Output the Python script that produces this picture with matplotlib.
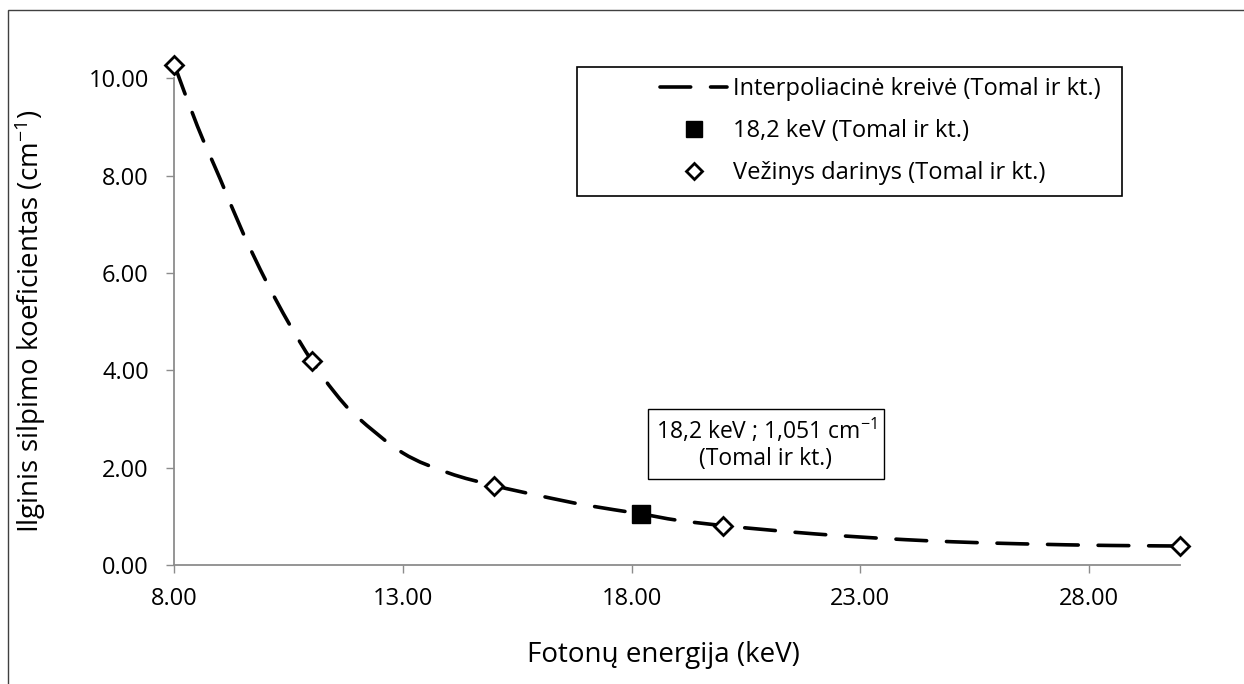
import matplotlib
matplotlib.use('Agg')
import matplotlib.pyplot as plt
from matplotlib.patches import Rectangle, PathPatch
from matplotlib.path import Path
from matplotlib.lines import Line2D

plt.rcParams['font.family'] = ['Open Sans', 'DejaVu Sans']
plt.rcParams['mathtext.fontset'] = 'custom'
plt.rcParams['mathtext.rm'] = 'Open Sans'
plt.rcParams['mathtext.default'] = 'regular'

# interpolation curve
interp_x = [8, 8.5, 9, 9.5, 10, 10.5, 11, 11.5, 12, 13, 14, 15, 16, 17, 18.2,
            19, 20, 21, 22, 23, 24, 25, 26, 27, 28, 29, 30]
interp_y = [10.27, 9.02, 7.93, 6.82, 5.84, 4.97, 4.20, 3.55, 3.04, 2.30, 1.89, 1.63,
            1.42, 1.23, 1.051, 0.92, 0.81, 0.72, 0.64, 0.575, 0.52, 0.478, 0.448,
            0.425, 0.407, 0.397, 0.39]

# measured points
meas_x = [8, 11, 15, 20, 30]
meas_y = [10.27, 4.20, 1.63, 0.81, 0.39]

# 18.2 keV point
ref_x = [18.2]
ref_y = [1.051]

x_ticks = [8, 13, 18, 23, 28]
y_ticks = [0, 2, 4, 6, 8, 10]

labels = ['Interpoliacinė kreivė (Tomal ir kt.)', '18,2 keV (Tomal ir kt.)',
          'Vežinys darinys (Tomal ir kt.)']

W, H = 1244, 684
fig = plt.figure(figsize=(W / 100, H / 100), dpi=100)
ax = fig.add_axes([174.5 / W, 1 - 565 / H, (1180 - 174.5) / W, (565 - 78.3) / H])

# smoothed line like Excel: cubic bezier segments through the points
verts = [(interp_x[0], interp_y[0])]
codes = [Path.MOVETO]
n = len(interp_x)
for i in range(n - 1):
    p0 = max(i - 1, 0)
    p3 = min(i + 2, n - 1)
    c1 = (interp_x[i] + (interp_x[i + 1] - interp_x[p0]) / 6,
          interp_y[i] + (interp_y[i + 1] - interp_y[p0]) / 6)
    c2 = (interp_x[i + 1] - (interp_x[p3] - interp_x[i]) / 6,
          interp_y[i + 1] - (interp_y[p3] - interp_y[i]) / 6)
    verts += [c1, c2, (interp_x[i + 1], interp_y[i + 1])]
    codes += [Path.CURVE4] * 3
lw = 2.6
ax.add_patch(PathPatch(Path(verts, codes), fill=False, ec='black', lw=lw,
                       ls=(0, (8.5, 5.5)), capstyle='round', clip_on=False, zorder=2))

ax.plot(ref_x, ref_y, 's', color='black', ms=13, clip_on=False, zorder=3)
ax.plot(meas_x, meas_y, 'D', mfc='white', mec='black', mew=2, ms=9.4,
        clip_on=False, zorder=4)

ax.set_xlim(8, 30)
ax.set_ylim(0, 10)
ax.set_xticks(x_ticks)
ax.set_yticks(y_ticks)
ax.set_xticklabels(['%.2f' % v for v in x_ticks])
ax.set_yticklabels(['%.2f' % v for v in y_ticks])

for s in ['top', 'right']:
    ax.spines[s].set_visible(False)
for s in ['left', 'bottom']:
    ax.spines[s].set_color('#8c8c8c')
    ax.spines[s].set_linewidth(1.3)
ax.tick_params(axis='both', direction='out', length=5.5, width=1, color='#8c8c8c',
               labelsize=17, labelcolor='black')
ax.tick_params(axis='y', pad=13)
ax.tick_params(axis='x', pad=10)

ax.set_xlabel('Fotonų energija (keV)', fontsize=20)
ax.set_ylabel('Ilginis silpimo koeficientas (cm$^{-1}$)', fontsize=20)
ax.xaxis.set_label_coords(0.486, -0.185)
ax.xaxis.label.set_va('center')
ax.yaxis.set_label_coords(-0.1437, 0.5)
ax.yaxis.label.set_va('center')

# annotation box
fig.text(766 / W, 1 - 444 / H, '18,2 keV ; 1,051 cm$^{-1}$\n(Tomal ir kt.)',
         ha='center', va='center', fontsize=16.5, linespacing=1.1,
         bbox=dict(boxstyle='square,pad=0.35', fc='white', ec='black', lw=1))

# legend
handles = [Line2D([], [], color='black', lw=lw, dashes=(8.5, 5.5), dash_capstyle='round'),
           Line2D([], [], ls='none', marker='s', color='black', ms=11),
           Line2D([], [], ls='none', marker='D', mfc='white', mec='black', mew=2, ms=8)]
fig.legend(handles, labels, loc='upper left', bbox_to_anchor=(660 / W, 1 - 77 / H),
           frameon=False, fontsize=17, handlelength=2.84, handletextpad=0.25,
           labelspacing=0.76, borderpad=0, borderaxespad=0)
fig.add_artist(Rectangle((577 / W, 1 - 196 / H), 545 / W, 129 / H, transform=fig.transFigure,
                         fill=False, ec='black', lw=1.2))

# chart area border
fig.add_artist(Rectangle((8 / W, -0.05), 1.1, 1 - 10 / H + 0.05, transform=fig.transFigure,
                         fill=False, ec='#404040', lw=1))

fig.savefig('out.png', dpi=100)
